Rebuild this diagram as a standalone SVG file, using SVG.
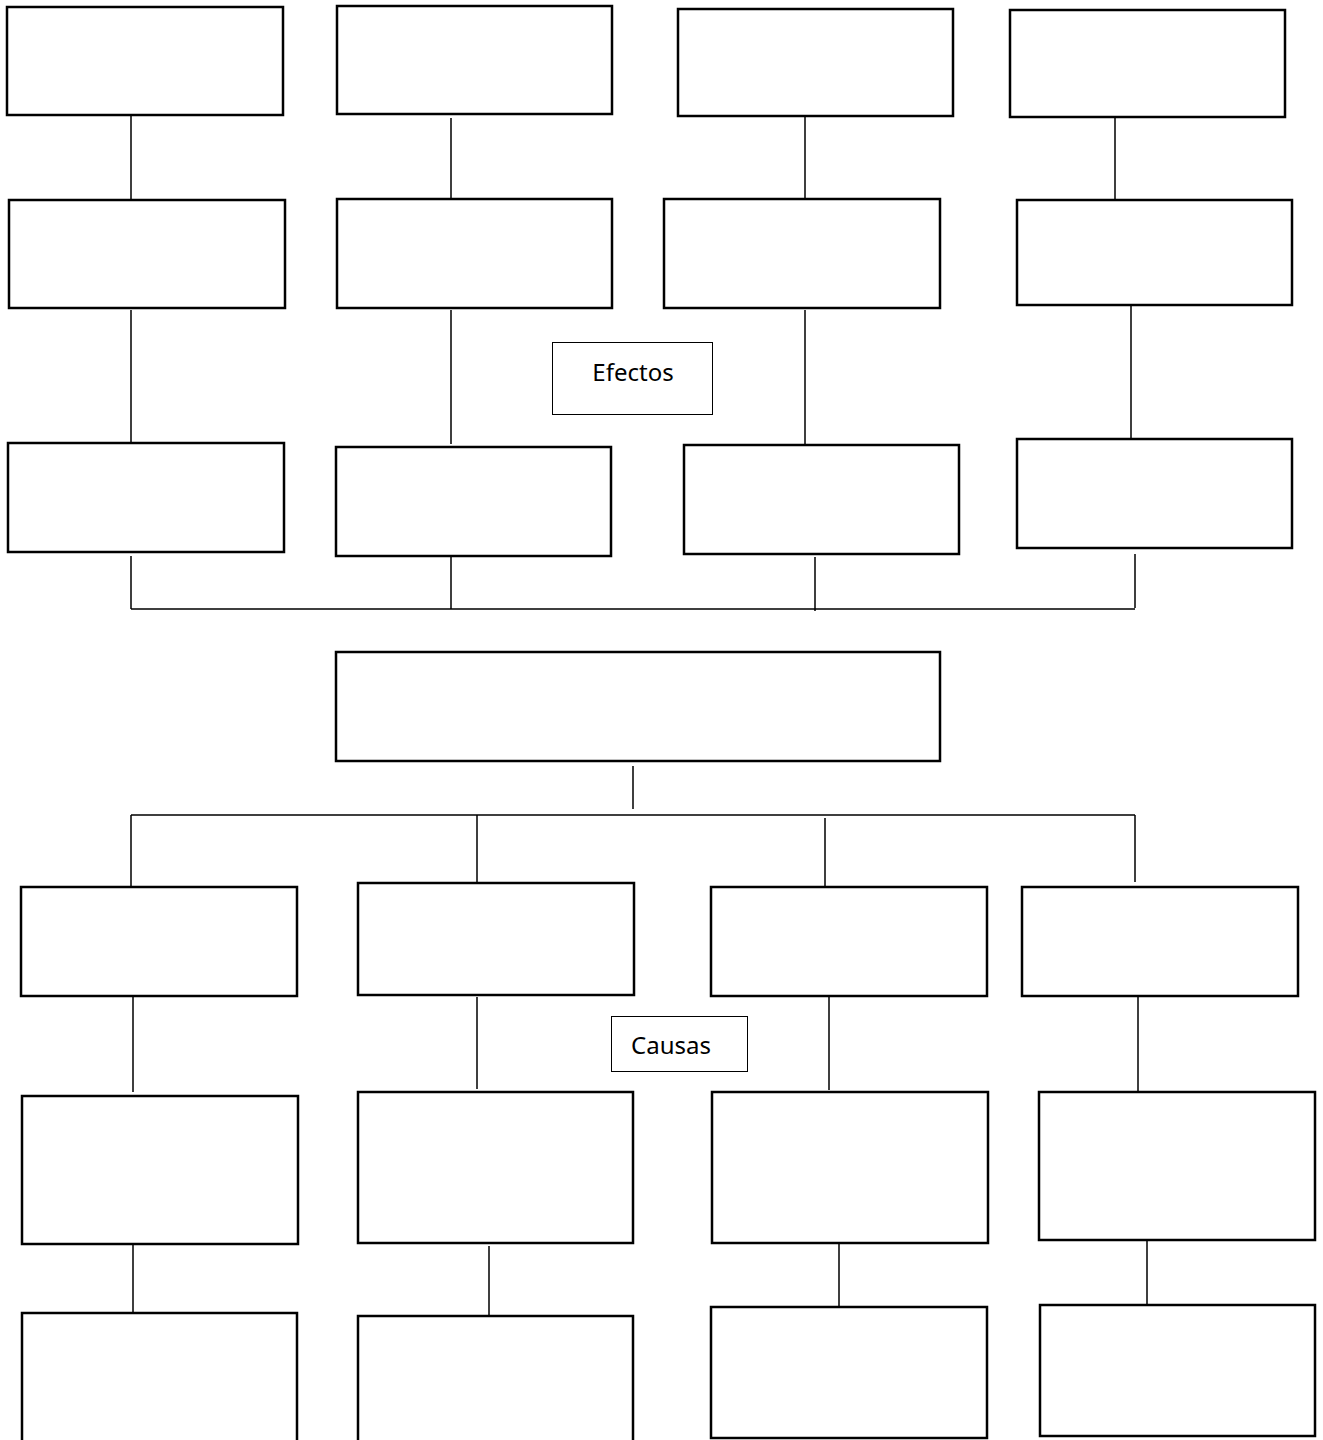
<svg xmlns="http://www.w3.org/2000/svg" width="1323" height="1440" viewBox="0 0 1323 1440">
<style>
.b{fill:#fff;stroke:#000;stroke-width:2.5}
.l{fill:#fff;stroke:#000;stroke-width:1}
.c{fill:none;stroke:#000;stroke-width:1.5}
.t{font-family:"Noto Sans","Open Sans",sans-serif;font-size:24px;fill:#000}
</style>
<rect width="1323" height="1440" fill="#fff"/>
<g id="connectors">
<path class="c" d="M131 115V199M451 118V199M805 116V199M1115 117V199"/>
<path class="c" d="M131 310V446M451 310V444M805 310V448M1131 302V438"/>
<path class="c" d="M131 556V609M451 556V609M815 557V611M1135 554V608M131 609H1135"/>
<path class="c" d="M633 766V809M131 815H1135M131 815V886M477 815V883M825 818V886M1135 815V882"/>
<path class="c" d="M133 997V1092M477 997V1089M829 997V1090M1138 997V1091"/>
<path class="c" d="M133 1245V1313M489 1246V1315M839 1237V1306M1147 1237V1304"/>
</g>
<g id="a1"><rect class="b" x="7" y="7" width="276" height="108"/></g>
<g id="a2"><rect class="b" x="337" y="6" width="275" height="108"/></g>
<g id="a3"><rect class="b" x="678" y="9" width="275" height="107"/></g>
<g id="a4"><rect class="b" x="1010" y="10" width="275" height="107"/></g>
<g id="b1"><rect class="b" x="9" y="200" width="276" height="108"/></g>
<g id="b2"><rect class="b" x="337" y="199" width="275" height="109"/></g>
<g id="b3"><rect class="b" x="664" y="199" width="276" height="109"/></g>
<g id="b4"><rect class="b" x="1017" y="200" width="275" height="105"/></g>
<g id="c1"><rect class="b" x="8" y="443" width="276" height="109"/></g>
<g id="c2"><rect class="b" x="336" y="447" width="275" height="109"/></g>
<g id="c3"><rect class="b" x="684" y="445" width="275" height="109"/></g>
<g id="c4"><rect class="b" x="1017" y="439" width="275" height="109"/></g>
<g id="efectos"><rect class="l" x="552.5" y="342.5" width="160" height="72"/><text class="t" x="633" y="381" text-anchor="middle">Efectos</text></g>
<g id="center"><rect class="b" x="336" y="652" width="604" height="109"/></g>
<g id="d1"><rect class="b" x="21" y="887" width="276" height="109"/></g>
<g id="d2"><rect class="b" x="358" y="883" width="276" height="112"/></g>
<g id="d3"><rect class="b" x="711" y="887" width="276" height="109"/></g>
<g id="d4"><rect class="b" x="1022" y="887" width="276" height="109"/></g>
<g id="causas"><rect class="l" x="611.5" y="1016.5" width="136" height="55"/><text class="t" x="631" y="1054">Causas</text></g>
<g id="e1"><rect class="b" x="22" y="1096" width="276" height="148"/></g>
<g id="e2"><rect class="b" x="358" y="1092" width="275" height="151"/></g>
<g id="e3"><rect class="b" x="712" y="1092" width="276" height="151"/></g>
<g id="e4"><rect class="b" x="1039" y="1092" width="276" height="148"/></g>
<g id="f1"><rect class="b" x="22" y="1313" width="275" height="130"/></g>
<g id="f2"><rect class="b" x="358" y="1316" width="275" height="127"/></g>
<g id="f3"><rect class="b" x="711" y="1307" width="276" height="131"/></g>
<g id="f4"><rect class="b" x="1040" y="1305" width="275" height="131"/></g>
</svg>
